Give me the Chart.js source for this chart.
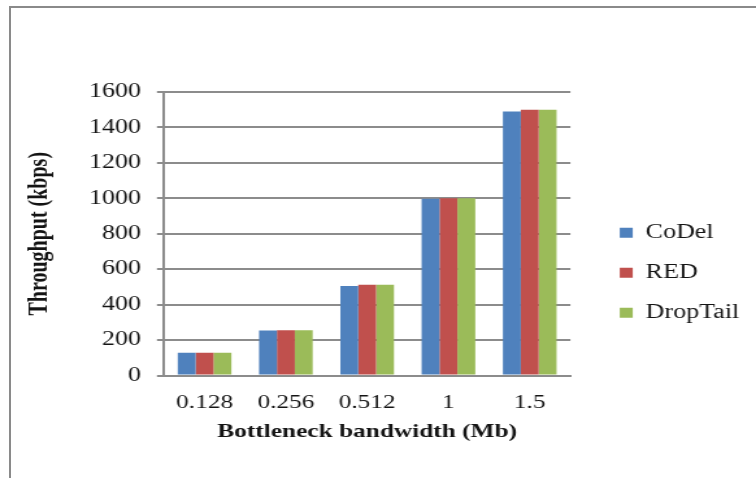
<!DOCTYPE html>
<html>
<head>
<meta charset="utf-8">
<script src="https://cdn.jsdelivr.net/npm/chart.js@4/dist/chart.umd.min.js"></script>
<style>
  html, body { margin: 0; padding: 0; background: #fff; }
  body { width: 756px; height: 478px; position: relative; overflow: hidden; }
  #frame { position: absolute; left: 9px; top: 6px; right: -4px; bottom: -4px;
           border-left: 2px solid #8a8a8a; border-top: 2px solid #8a8a8a; }
  /* the figure is drawn narrow and widened, giving the broad serif lettering */
  #wrap { position: absolute; left: 0; top: 0; width: 582px; height: 478px;
          transform: scaleX(1.299); transform-origin: 0 0; }
  canvas { display: block; }
</style>
</head>
<body>
<div id="frame"></div>
<div id="wrap"><canvas id="c" width="582" height="478"></canvas></div>
<script>
// Throughput (kbps) per bottleneck bandwidth (Mb)
const categories = ['0.128', '0.256', '0.512', '1', '1.5'];
const codelValues = [128, 254, 505, 998, 1490];
const redValues = [128, 256, 512, 1000, 1500];
const dropTailValues = [128, 256, 512, 1000, 1500];
const yMin = 0, yMax = 1600, yStep = 200;

const SERIF = "'Liberation Serif', 'Times New Roman', serif";
const GRID = '#8c8c8c';
const INK = '#141414';

new Chart(document.getElementById('c'), {
  type: 'bar',
  data: {
    labels: categories,
    datasets: [
      { label: 'CoDel', data: codelValues, backgroundColor: '#4F81BD' },
      { label: 'RED', data: redValues, backgroundColor: '#C0504D' },
      { label: 'DropTail', data: dropTailValues, backgroundColor: '#9BBB59' }
    ]
  },
  options: {
    responsive: false,
    animation: false,
    devicePixelRatio: 1,
    datasets: { bar: { categoryPercentage: 0.66, barPercentage: 1.0, borderWidth: 0 } },
    layout: { padding: { top: 92, left: 0, right: 3, bottom: 0 } },
    plugins: {
      tooltip: { enabled: false },
      legend: {
        position: 'right',
        fullSize: false,
        align: 'center',
        title: { display: true, text: '', font: { size: 10 }, padding: { top: 0, bottom: 66 } },
        labels: {
          boxWidth: 10,
          boxHeight: 10,
          padding: 20,
          color: INK,
          font: { family: SERIF, size: 20 }
        }
      }
    },
    scales: {
      x: {
        grid: { display: false, drawTicks: true, tickLength: 15.3 },
        border: { display: true, color: GRID, width: 2 },
        ticks: { color: INK, padding: 0, font: { family: SERIF, size: 19.5 } },
        title: {
          display: true,
          text: 'Bottleneck bandwidth (Mb)',
          color: INK,
          font: { family: SERIF, size: 19.5, weight: 'bold' },
          padding: { top: 6.1, bottom: 34.3 }
        }
      },
      y: {
        min: yMin,
        max: yMax,
        grid: { color: GRID, lineWidth: 2, tickLength: 5.4, drawTicks: true },
        border: { display: true, color: GRID, width: 2 },
        ticks: {
          stepSize: yStep,
          color: INK,
          padding: 12.2,
          font: { family: SERIF, size: 20 },
          callback: (v) => String(v)
        },
        title: {
          display: true,
          text: 'Throughput (kbps)',
          color: INK,
          font: { family: SERIF, size: 20, weight: 'bold' },
          padding: { top: 18.8, bottom: 12 }
        },
        afterFit: (s) => { s.width = 126.2; }
      },
      // empty strip between the plot and the legend
      gap: {
        type: 'linear',
        position: 'right',
        display: false,
        afterFit: (s) => { s.width = 18; }
      }
    }
  }
});
</script>
</body>
</html>
